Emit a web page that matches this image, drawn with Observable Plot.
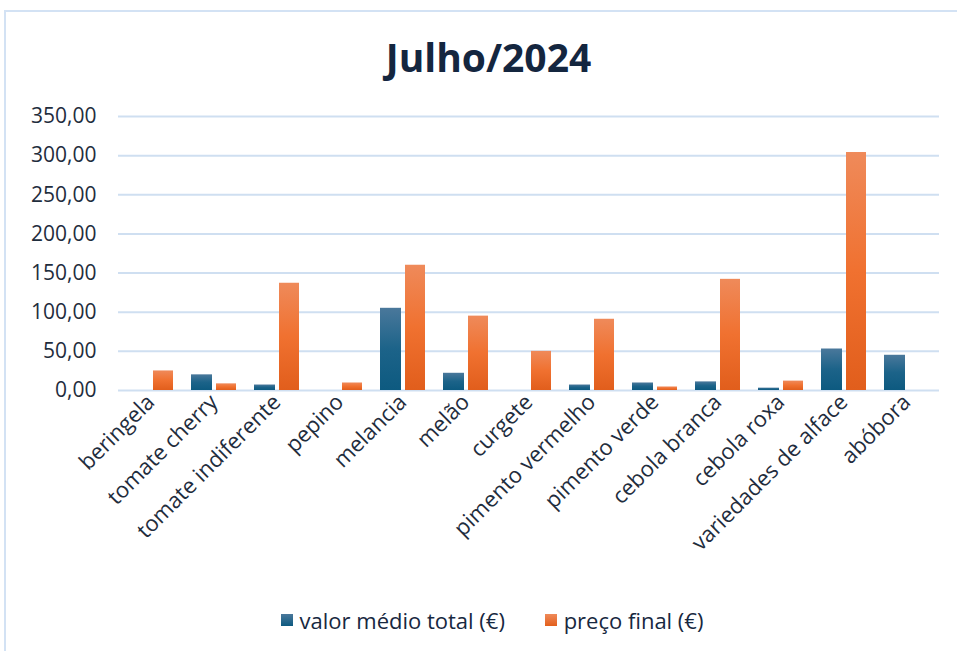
<!DOCTYPE html>
<html>
<head>
<meta charset="utf-8">
<script src="https://cdn.jsdelivr.net/npm/d3@7"></script>
<script src="https://cdn.jsdelivr.net/npm/@observablehq/plot@0.6"></script>
<style>
  html, body { margin: 0; padding: 0; background: #fff; }
  body { width: 957px; height: 651px; position: relative; overflow: hidden; font-family: "Open Sans", "Noto Sans", sans-serif; }
  #frame { position: absolute; left: 4px; top: 10px; width: 970px; height: 660px; border: 2px solid #d3e2f4; box-sizing: border-box; }
  #title { position: absolute; left: 0; width: 977px; top: 30px; text-align: center; font-size: 39px; font-weight: 700; color: #14263f; font-family: "Open Sans", sans-serif; }
  #chart { position: absolute; left: 0; top: 0; }
  #legend { position: absolute; top: 602px; left: 0; width: 984px; text-align: center; font-size: 22px; color: #17283f; }
  .li { display: inline-flex; align-items: center; margin: 0 17px; }
  .sw { width: 12px; height: 12px; margin-right: 7px; display: inline-block; }
  .xax text { font-size: 22px; }
</style>
</head>
<body>
<div id="frame"></div>
<div id="title">Julho/2024</div>
<div id="chart"></div>
<div id="legend">
  <span class="li"><span class="sw" style="background: linear-gradient(#4a789b, #0d5a80)"></span>valor médio total (€)</span>
  <span class="li"><span class="sw" style="background: linear-gradient(#ef8a5a, #e35f1c)"></span>preço final (€)</span>
</div>
<script>
const categories = ["beringela", "tomate cherry", "tomate indiferente", "pepino", "melancia", "melão", "curgete", "pimento vermelho", "pimento verde", "cebola branca", "cebola roxa", "variedades de alface", "abóbora"];
const valorMedio = [0, 20, 7, 0, 105, 22, 0, 7, 9.6, 11, 3, 53, 45];
const precoFinal = [25, 8.5, 137, 9.6, 160, 95, 50, 91, 4.5, 142, 12, 304, 0];
const yTicks = [0, 50, 100, 150, 200, 250, 300, 350];

const rowsValor = categories.map((c, i) => ({cat: c, v: valorMedio[i]}));
const rowsPreco = categories.map((c, i) => ({cat: c, v: precoFinal[i]}));

const fmt = d => d.toFixed(2).replace(".", ",");

const plot = Plot.plot({
  width: 957,
  height: 651,
  marginTop: 116,
  marginBottom: 261,
  marginLeft: 118,
  marginRight: 18,
  style: {fontFamily: "'Open Sans', sans-serif", fontSize: "21px", color: "#1f2d3d", background: "transparent"},
  x: {domain: categories, padding: 0, label: null, tickSize: 0, tickPadding: 8, tickRotate: -45},
  y: {domain: [0, 350], ticks: yTicks, tickFormat: fmt, label: null, tickSize: 0, tickPadding: 22},
  marks: [
    Plot.ruleY(yTicks, {stroke: "#cfdff1", strokeWidth: 2, strokeOpacity: 1}),
    Plot.barY(rowsValor, {x: "cat", y: "v", fill: "url(#gBlue)", insetLeft: 9, insetRight: 33}),
    Plot.barY(rowsPreco, {x: "cat", y: "v", fill: "url(#gOrange)", insetLeft: 34, insetRight: 9}),
    Plot.axisX({className: "xax", tickSize: 0, tickPadding: 8, tickRotate: -45, label: null, fontSize: 22})
  ]
});

const svgNS = "http://www.w3.org/2000/svg";
const defs = document.createElementNS(svgNS, "defs");
function grad(id, stops) {
  const g = document.createElementNS(svgNS, "linearGradient");
  g.setAttribute("id", id);
  g.setAttribute("x1", "0"); g.setAttribute("y1", "0");
  g.setAttribute("x2", "0"); g.setAttribute("y2", "1");
  stops.forEach(([o, c]) => {
    const s = document.createElementNS(svgNS, "stop");
    s.setAttribute("offset", o);
    s.setAttribute("stop-color", c);
    g.appendChild(s);
  });
  defs.appendChild(g);
}
grad("gBlue", [["0", "#4a789b"], ["0.5", "#1c6389"], ["1", "#0d5a80"]]);
grad("gOrange", [["0", "#ef8a5a"], ["0.5", "#f07130"], ["1", "#e15e1c"]]);
plot.insertBefore(defs, plot.firstChild);

document.getElementById("chart").appendChild(plot);
</script>
</body>
</html>
